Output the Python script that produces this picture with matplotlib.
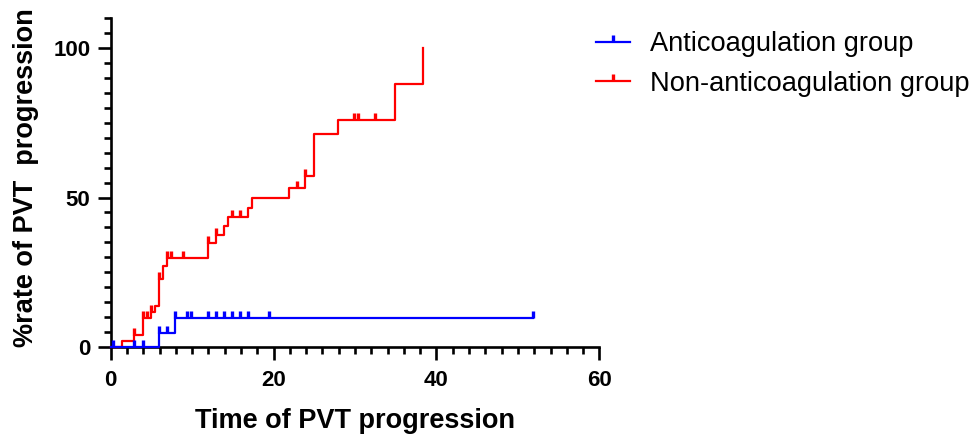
import numpy as np
import matplotlib
matplotlib.use("Agg")
import matplotlib.pyplot as plt
from matplotlib.lines import Line2D

plt.rcParams['font.family'] = ['Liberation Sans', 'DejaVu Sans']

# Non-anticoagulation group (red): event times and cumulative % after each event
red_times = [0, 1.35, 2.9, 3.93, 4.91, 5.44, 5.94, 6.43, 6.92, 11.9, 12.9, 13.9,
             14.45, 16.9, 17.4, 21.9, 23.9, 24.9, 27.9, 34.9, 38.4]
red_values = [0, 2.0, 3.9, 9.6, 11.6, 13.7, 22.7, 27.2, 29.8, 34.7, 37.5, 40.4,
              43.3, 46.5, 50.0, 53.1, 57.2, 71.3, 76.1, 87.9, 100.0]
red_censor = [2.9, 3.93, 4.42, 4.91, 5.94, 6.92, 7.41, 8.92, 11.9, 12.9, 14.9,
              15.9, 22.9, 23.9, 29.9, 30.4, 32.4]

# Anticoagulation group (blue)
blue_times = [0, 5.94, 7.94, 51.9]
blue_values = [0, 4.5, 9.6, 9.6]
blue_censor = [0.33, 2.9, 3.93, 5.94, 6.92, 7.94, 9.4, 9.9, 11.9, 12.9, 13.9,
               14.9, 15.9, 16.9, 19.4, 51.9]

labels = ["Anticoagulation group", "Non-anticoagulation group"]
colors = ["#0000FF", "#FF0000"]

fig = plt.figure(figsize=(9.71, 4.34), dpi=100)
ax = fig.add_axes([0.114, 0.2012, 0.5033, 0.7562])


def level_at(times, values, t):
    idx = np.searchsorted(times, t, side='right') - 1
    return np.asarray(values)[idx]


groups = [(red_times, red_values, red_censor, colors[1]),
          (blue_times, blue_values, blue_censor, colors[0])]
for times, values, cens, c in groups:
    ax.plot(times, values, drawstyle='steps-post', color=c, lw=1.6,
            clip_on=False, zorder=3)
    cy = level_at(times, values, cens)
    ax.plot(cens, cy, linestyle='none', marker=2, markersize=5,
            markeredgewidth=2.4, color=c, clip_on=False, zorder=3)

ax.set_xlim(0, 60)
ax.set_ylim(0, 110)
ax.set_xticks([0, 20, 40, 60])
ax.set_yticks([0, 50, 100])
ax.set_xticks(np.arange(0, 61, 2), minor=True)
ax.set_yticks(np.arange(0, 111, 5), minor=True)

for s in ['top', 'right']:
    ax.spines[s].set_visible(False)
for s in ['left', 'bottom']:
    ax.spines[s].set_linewidth(1.9)

ax.tick_params(which='major', direction='out', length=9.5, width=1.9,
               labelsize=16)
ax.tick_params(axis='x', which='major', pad=7)
ax.tick_params(axis='y', which='major', pad=5)
ax.tick_params(which='minor', direction='out', length=5, width=1.9)
for lab in ax.get_xticklabels() + ax.get_yticklabels():
    lab.set_fontweight('bold')

ax.set_xlabel("Time of PVT progression", fontsize=19.5, fontweight='bold')
ax.set_ylabel("%rate of PVT  progression", fontsize=19.5, fontweight='bold')
ax.xaxis.set_label_coords(0.5, -0.188)
ax.yaxis.set_label_coords(-0.147, 0.515)

handles = [Line2D([0], [0], color=colors[0], lw=1.6, marker=2, markersize=5,
                  markeredgewidth=2.4),
           Line2D([0], [0], color=colors[1], lw=1.6, marker=2, markersize=5,
                  markeredgewidth=2.4)]
fig.legend(handles, labels, loc='upper left', bbox_to_anchor=(0.6138, 0.928),
           frameon=False, fontsize=19.6, numpoints=1, handlelength=1.24,
           handletextpad=0.76, labelspacing=0.5, borderpad=0, borderaxespad=0)

fig.savefig("out.png", dpi=100)
